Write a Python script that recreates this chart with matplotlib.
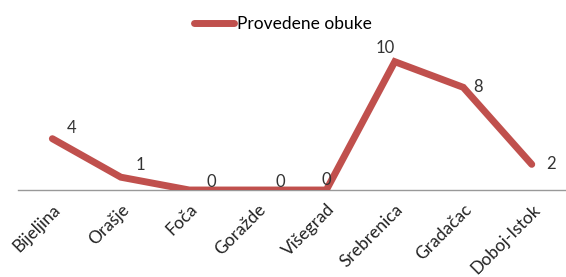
import matplotlib.pyplot as plt

cities = ['Bijeljina', 'Orašje', 'Foča', 'Goražde', 'Višegrad',
          'Srebrenica', 'Gradačac', 'Doboj-Istok']
obuke = [4, 1, 0, 0, 0, 10, 8, 2]
label_offsets = [(14, 8), (14, 9), (16, 6), (16, 6), (0, 7), (-7, 10), (11, 0), (14, 0)]

plt.rcParams['font.family'] = ['Lato', 'DejaVu Sans']

fig = plt.figure(figsize=(5.66, 2.77), dpi=100)
ax = fig.add_axes([0.032, 0.314, 0.968, 0.556])

x = range(len(cities))
ax.plot(x, obuke, color='#C0504D', lw=5, solid_joinstyle='miter',
        solid_capstyle='round', label='Provedene obuke', zorder=3)

for xi, v, off in zip(x, obuke, label_offsets):
    ax.annotate(str(v), (xi, v), xytext=off, textcoords='offset points',
                ha='center', va='center', fontsize=12, color='#333333')

ax.set_xlim(-0.5, 7.5)
ax.set_ylim(0, 12)
ax.set_xticks(list(x))
ax.set_xticklabels(cities, rotation=45, ha='right', rotation_mode='anchor',
                   fontsize=12.5, color='#222222')
ax.tick_params(axis='x', length=0, pad=8)
ax.set_yticks([])
for s in ['top', 'right', 'left']:
    ax.spines[s].set_visible(False)
ax.spines['bottom'].set_color('#999999')
ax.spines['bottom'].set_linewidth(1)

fig.legend(loc='upper center', bbox_to_anchor=(0.5, 1.0), frameon=False,
           fontsize=12.5, handlelength=2.3, handletextpad=0.2)

fig.savefig('out.png', dpi=100)
